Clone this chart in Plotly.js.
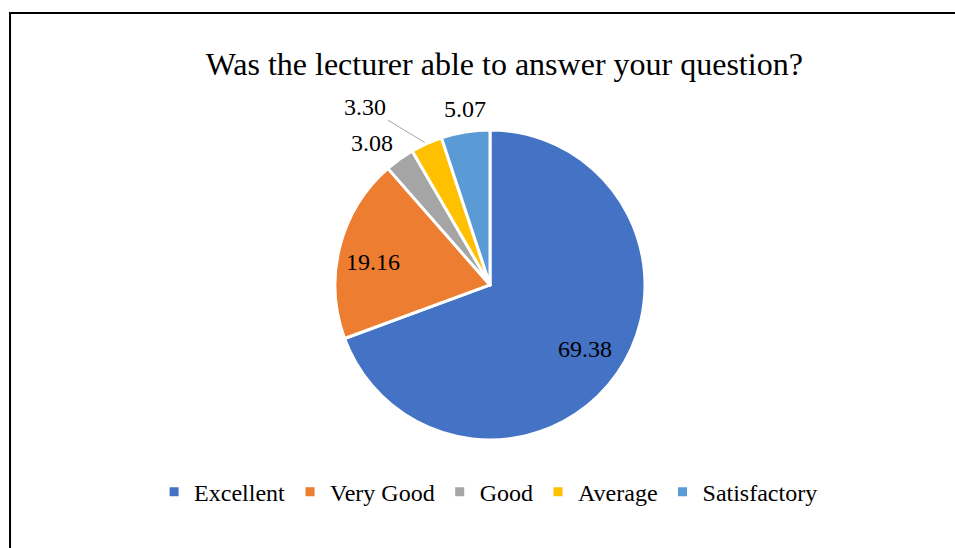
<!DOCTYPE html>
<html>
<head>
<meta charset="utf-8">
<script src="https://cdn.plot.ly/plotly-3.0.1.min.js"></script>
<style>
  html, body { margin: 0; padding: 0; background: #fff; }
  #pie-chart { width: 955px; height: 548px; }
</style>
</head>
<body>
<div id="pie-chart"></div>
<script>
const CHART_ID = "pie-chart";

const categories = ['Excellent', 'Very Good', 'Good', 'Average', 'Satisfactory'];
const percentages = [69.38, 19.16, 3.08, 3.30, 5.07];
const sliceColors = ['#4472C4', '#ED7D31', '#A5A5A5', '#FFC000', '#5B9BD5'];

// label placement, as a fraction of the radius along each slice's middle
const labelRadius = [0.75, 0.75, 1.19, 1.0, 1.15];
// small nudges of the labels, screen pixels (right, down)
const labelNudge = [[0, -2], [-4, 6], [-10, 8], [0, 0], [3, 0]];
// small slices whose label is pushed away with a leader line (pixel offsets)
const leaderOffsets = {3: [-61, -37]};

const serif = '"Liberation Serif", "Times New Roman", serif';

// pie domain in paper coordinates (margins are 0, so paper = whole page)
const pieDomain = {x: [0.3508, 0.6754], y: [0.197, 0.763]};
const W = 955, H = 548;

function buildLabels() {
  const total = percentages.reduce((a, b) => a + b, 0);
  const cx = (pieDomain.x[0] + pieDomain.x[1]) / 2;
  const cy = (pieDomain.y[0] + pieDomain.y[1]) / 2;
  const radiusPx = Math.min((pieDomain.x[1] - pieDomain.x[0]) * W, (pieDomain.y[1] - pieDomain.y[0]) * H) / 2;
  const rx = radiusPx / W, ry = radiusPx / H;

  let cum = 0;
  return percentages.map((v, i) => {
    const theta = 2 * Math.PI * (cum + v / 2) / total; // clockwise from 12 o'clock
    cum += v;
    const r = labelRadius[i];
    const ann = {
      xref: 'paper', yref: 'paper',
      x: cx + r * rx * Math.sin(theta),
      y: cy + r * ry * Math.cos(theta),
      xanchor: 'center',
      yanchor: 'middle',
      xshift: labelNudge[i][0],
      yshift: -labelNudge[i][1],
      text: v.toFixed(2),
      font: {family: serif, size: 24, color: '#000'},
      showarrow: false
    };
    if (leaderOffsets[i]) {
      ann.showarrow = true;
      ann.arrowhead = 0;
      ann.arrowwidth = 1;
      ann.arrowcolor = '#A5A5A5';
      ann.standoff = 2;
      ann.ax = leaderOffsets[i][0];
      ann.ay = leaderOffsets[i][1];
    }
    return ann;
  });
}

const trace = {
  type: 'pie',
  labels: categories,
  values: percentages,
  sort: false,
  direction: 'clockwise',
  rotation: 0,
  marker: {colors: sliceColors, line: {color: '#fff', width: 3}},
  textinfo: 'none',
  hoverinfo: 'label+value',
  domain: pieDomain
};

const layout = {
  width: W,
  height: H,
  margin: {l: 0, r: 0, t: 0, b: 0},
  paper_bgcolor: '#fff',
  font: {family: serif, color: '#000'},
  title: {
    text: 'Was the lecturer able to answer your question?',
    font: {family: serif, size: 32, color: '#000'},
    x: 0.528,
    xanchor: 'center',
    y: 0.884,
    yanchor: 'middle',
    yref: 'container'
  },
  showlegend: true,
  legend: {
    orientation: 'h',
    x: 0.5116,
    xanchor: 'center',
    y: 0.102,
    yanchor: 'middle',
    itemgap: 0,
    font: {family: serif, size: 24, color: '#000'}
  },
  annotations: buildLabels(),
  shapes: [{
    type: 'rect',
    xref: 'paper', yref: 'paper',
    x0: 0.0105, x1: 1.05, y0: -0.1, y1: 0.9765,
    line: {color: '#000', width: 2}
  }]
};

Plotly.newPlot(CHART_ID, [trace], layout, {displayModeBar: false, staticPlot: true});
</script>
</body>
</html>
